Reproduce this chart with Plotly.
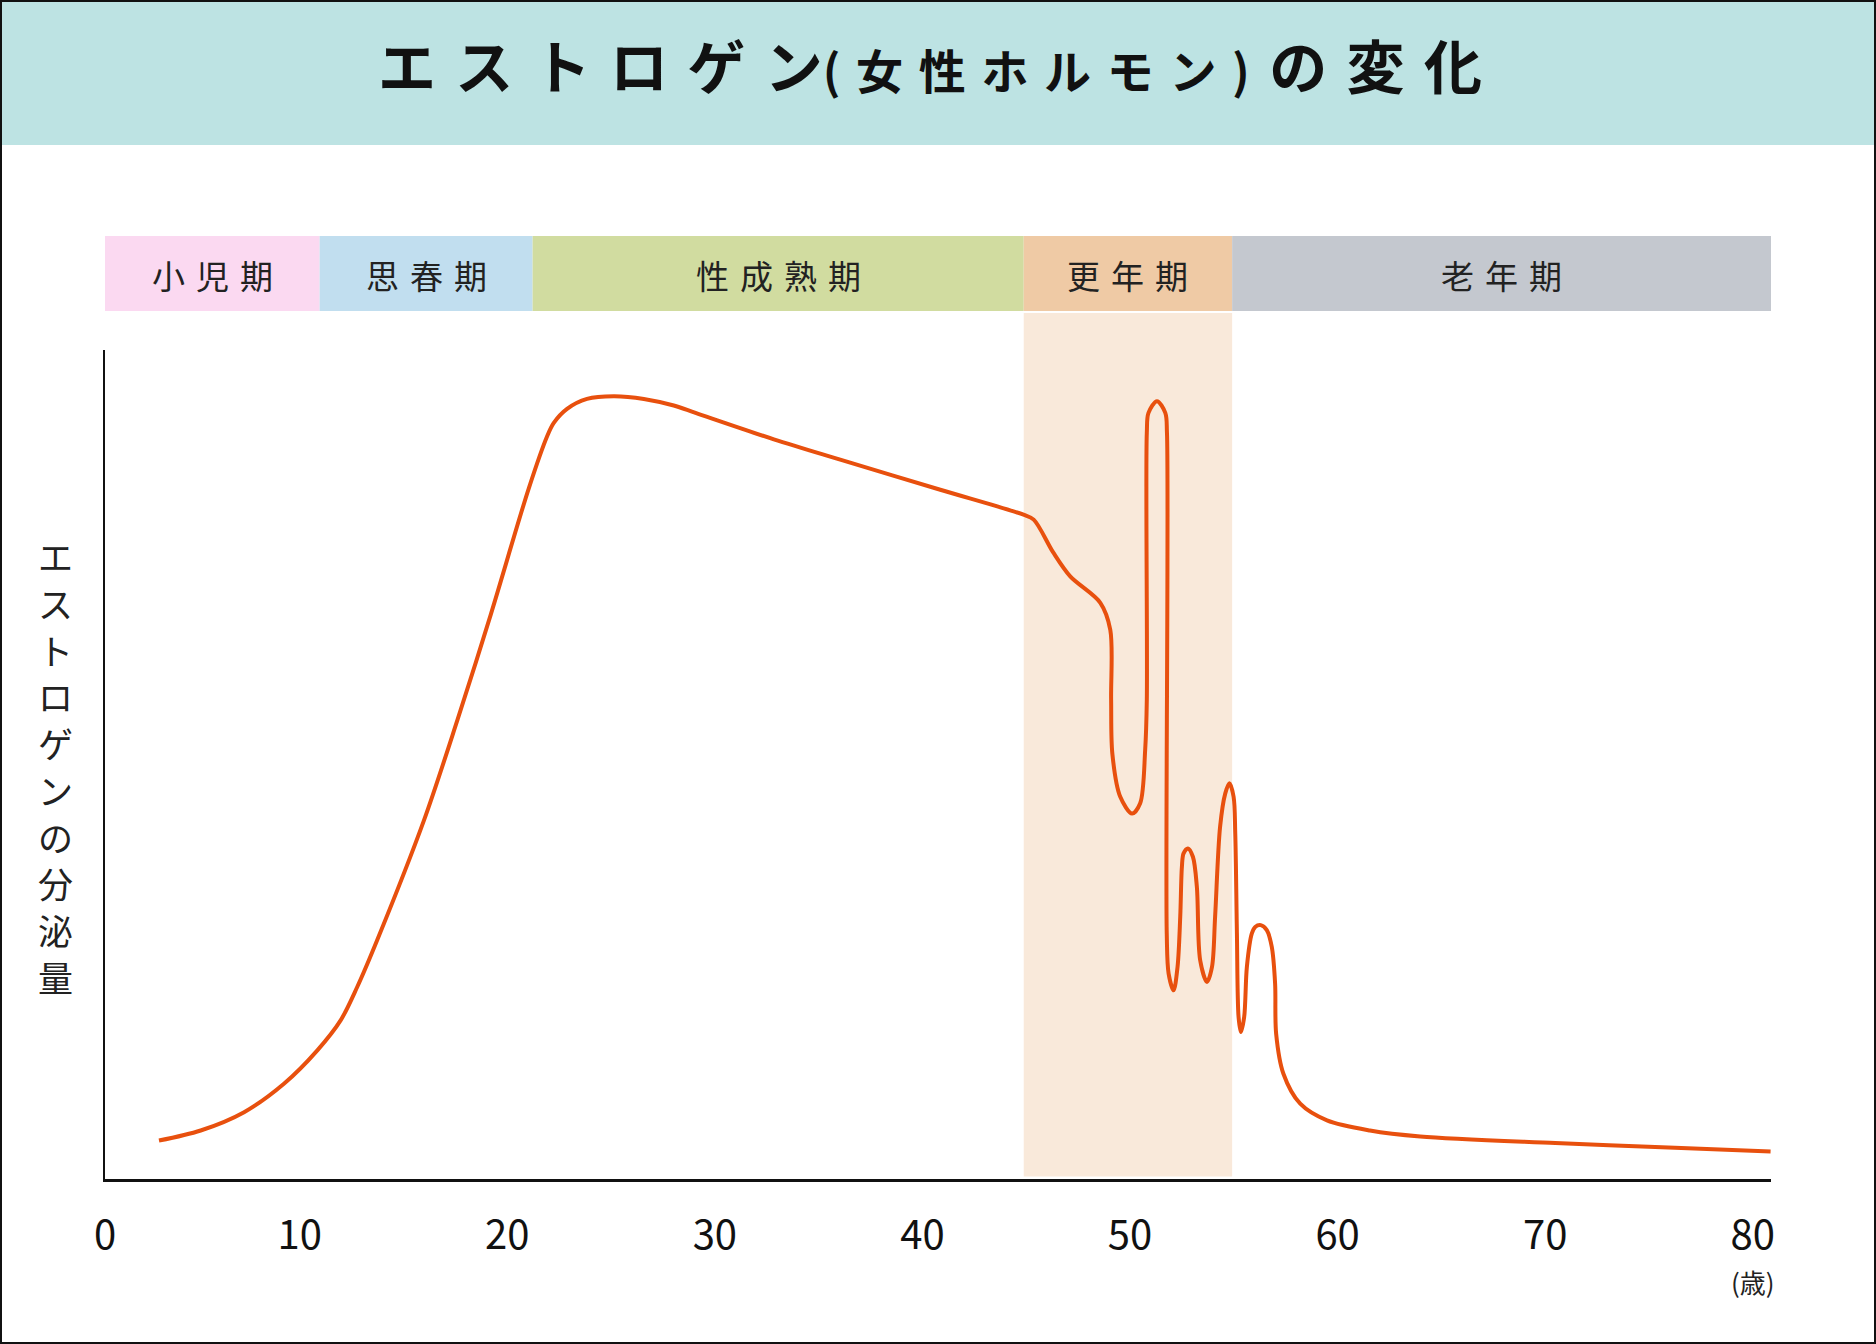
import plotly.graph_objects as go

# estrogen curve (age in years, relative level 0-100)
ages = [3.22, 5.23, 7.32, 9.24, 10.85, 11.97, 12.77, 13.73, 15.99, 17.60,
        19.20, 21.04, 21.92, 22.24, 22.88, 23.84, 25.13, 26.58, 28.02, 29.07,
        32.84, 36.04, 40.86, 44.87, 45.36, 46.30, 47.12, 48.57, 49.05, 49.09,
        49.15, 49.53, 50.10, 50.49, 50.73, 50.81, 50.81, 50.89, 51.30, 51.70,
        51.78, 51.77, 51.86, 52.10, 52.29, 52.42, 52.50, 52.58, 52.79, 53.03,
        53.22, 53.38, 53.71, 53.95, 54.10, 54.34, 54.59, 54.79, 54.99, 55.07,
        55.15, 55.23, 55.34, 55.50, 55.63, 55.87, 56.03, 56.30, 56.59, 56.83,
        56.99, 57.04, 57.39, 58.20, 59.49, 61.56, 63.98, 70.49, 76.25, 80.86]
levels = [4.64, 5.85, 8.06, 11.49, 15.52, 19.13, 23.16, 28.80, 43.29, 55.38,
          68.06, 83.35, 89.60, 91.21, 92.90, 94.10, 94.42, 94.10, 93.30, 92.41,
          89.23, 86.78, 83.14, 80.13, 79.54, 75.58, 72.69, 69.51, 66.24, 57.80,
          51.30, 46.10, 44.08, 45.32, 51.73, 57.80, 90.03, 92.41, 93.83, 92.41,
          90.03, 29.62, 24.78, 22.76, 25.58, 31.65, 37.66, 39.28, 39.88, 38.87,
          35.26, 26.39, 23.77, 25.58, 31.65, 42.49, 46.52, 47.73, 46.11, 41.69,
          29.62, 19.54, 17.73, 19.54, 25.58, 29.62, 30.40, 30.62, 30.01, 27.99,
          23.57, 17.53, 12.70, 9.08, 7.07, 5.85, 5.13, 4.34, 3.76, 3.32]

phase_names = ["小児期", "思春期", "性成熟期", "更年期", "老年期"]
phase_start = [0.62, 10.96, 21.22, 44.88, 54.92]
phase_end = [10.96, 21.22, 44.88, 54.92, 80.88]
phase_colors = ["#FBD9F1", "#C1DEEF", "#D1DCA0", "#EFCAA5", "#C4C8CF"]

tick_ages = [0.62, 10, 20, 30, 40, 50, 60, 70, 80]
tick_labels = ["0", "10", "20", "30", "40", "50", "60", "70", "80"]

y_label = "エストロゲンの分泌量"

FONT = "Noto Sans CJK JP"
W, H = 1876, 1344
L, R, T, B = 105, 105, 350, 165
pw, ph = W - L - R, H - T - B


def px_x(X):
    return (X - L) / pw


def px_y(Y):
    return (H - B - Y) / ph


sep = "\u2004"

fig = go.Figure()
fig.add_trace(go.Scatter(x=ages, y=levels, mode="lines",
                         line=dict(color="#E8500E", width=4, shape="spline", smoothing=0.9),
                         hoverinfo="skip", showlegend=False, cliponaxis=False))

shapes = []
# title band
shapes.append(dict(type="rect", xref="paper", yref="paper", x0=px_x(0), x1=px_x(W),
                   y0=px_y(145), y1=px_y(0), fillcolor="#BDE3E3", line_width=0, layer="below"))
# life stage bands
for s, e, c in zip(phase_start, phase_end, phase_colors):
    shapes.append(dict(type="rect", xref="x", yref="paper", x0=s, x1=e,
                       y0=px_y(311), y1=px_y(236), fillcolor=c, line_width=0, layer="below"))
# menopause shading
shapes.append(dict(type="rect", xref="x", yref="paper", x0=phase_start[3], x1=phase_end[3],
                   y0=px_y(1176.5), y1=px_y(313), fillcolor="#F9E9DA", line_width=0, layer="below"))
# outer frame
shapes.append(dict(type="rect", xref="paper", yref="paper", x0=px_x(1), x1=px_x(W - 1),
                   y0=px_y(H - 1), y1=px_y(1), line=dict(color="#111111", width=2)))

annotations = []
title = ("<b>" + sep.join("エストロゲン")
         + "<span style='font-size:47px'>(" + sep + sep.join("女性ホルモン") + sep + ")</span>"
         + sep + sep.join("の変化") + "</b>")
annotations.append(dict(text=title, xref="paper", yref="paper", x=px_x(930), y=px_y(64),
                        xanchor="center", yanchor="middle", showarrow=False,
                        font=dict(family=FONT, size=58, color="#111111")))
for name, s, e in zip(phase_names, phase_start, phase_end):
    annotations.append(dict(text=sep.join(name), xref="x", yref="paper", x=(s + e) / 2,
                            y=px_y(275), xanchor="center", yanchor="middle", showarrow=False,
                            font=dict(family=FONT, size=33, color="#222222")))
# vertical axis title, one upright character per row
pitch = 46.8
for i, ch in enumerate(y_label):
    yc = 766 + (i - (len(y_label) - 1) / 2) * pitch
    annotations.append(dict(text=ch, xref="paper", yref="paper", x=px_x(55), y=px_y(yc),
                            xanchor="center", yanchor="middle", showarrow=False, borderpad=0,
                            font=dict(family=FONT, size=35, color="#222222")))
annotations.append(dict(text="(歳)", xref="x", yref="paper", x=80, y=px_y(1281),
                        xanchor="center", yanchor="middle", showarrow=False, borderpad=0,
                        font=dict(family=FONT, size=26, color="#222222")))

fig.update_layout(
    width=W, height=H,
    margin=dict(l=L, r=R, t=T, b=B),
    paper_bgcolor="white", plot_bgcolor="rgba(0,0,0,0)",
    shapes=shapes, annotations=annotations,
    xaxis=dict(range=[0.62, 80.88], showgrid=False, zeroline=False, showline=True,
               linecolor="#111111", linewidth=2.5, tickvals=tick_ages, ticktext=tick_labels,
               ticks="", ticklabelstandoff=19,
               tickfont=dict(family=FONT, size=40, color="#111111")),
    yaxis=dict(range=[0, 100], showgrid=False, zeroline=False, showline=True,
               linecolor="#111111", linewidth=1.5, showticklabels=False, ticks=""),
)

# drop the default page margin so the figure fills the window exactly
fig.write_html("out.html", config={"displayModeBar": False},
               post_script="document.body.style.margin='0px';")
